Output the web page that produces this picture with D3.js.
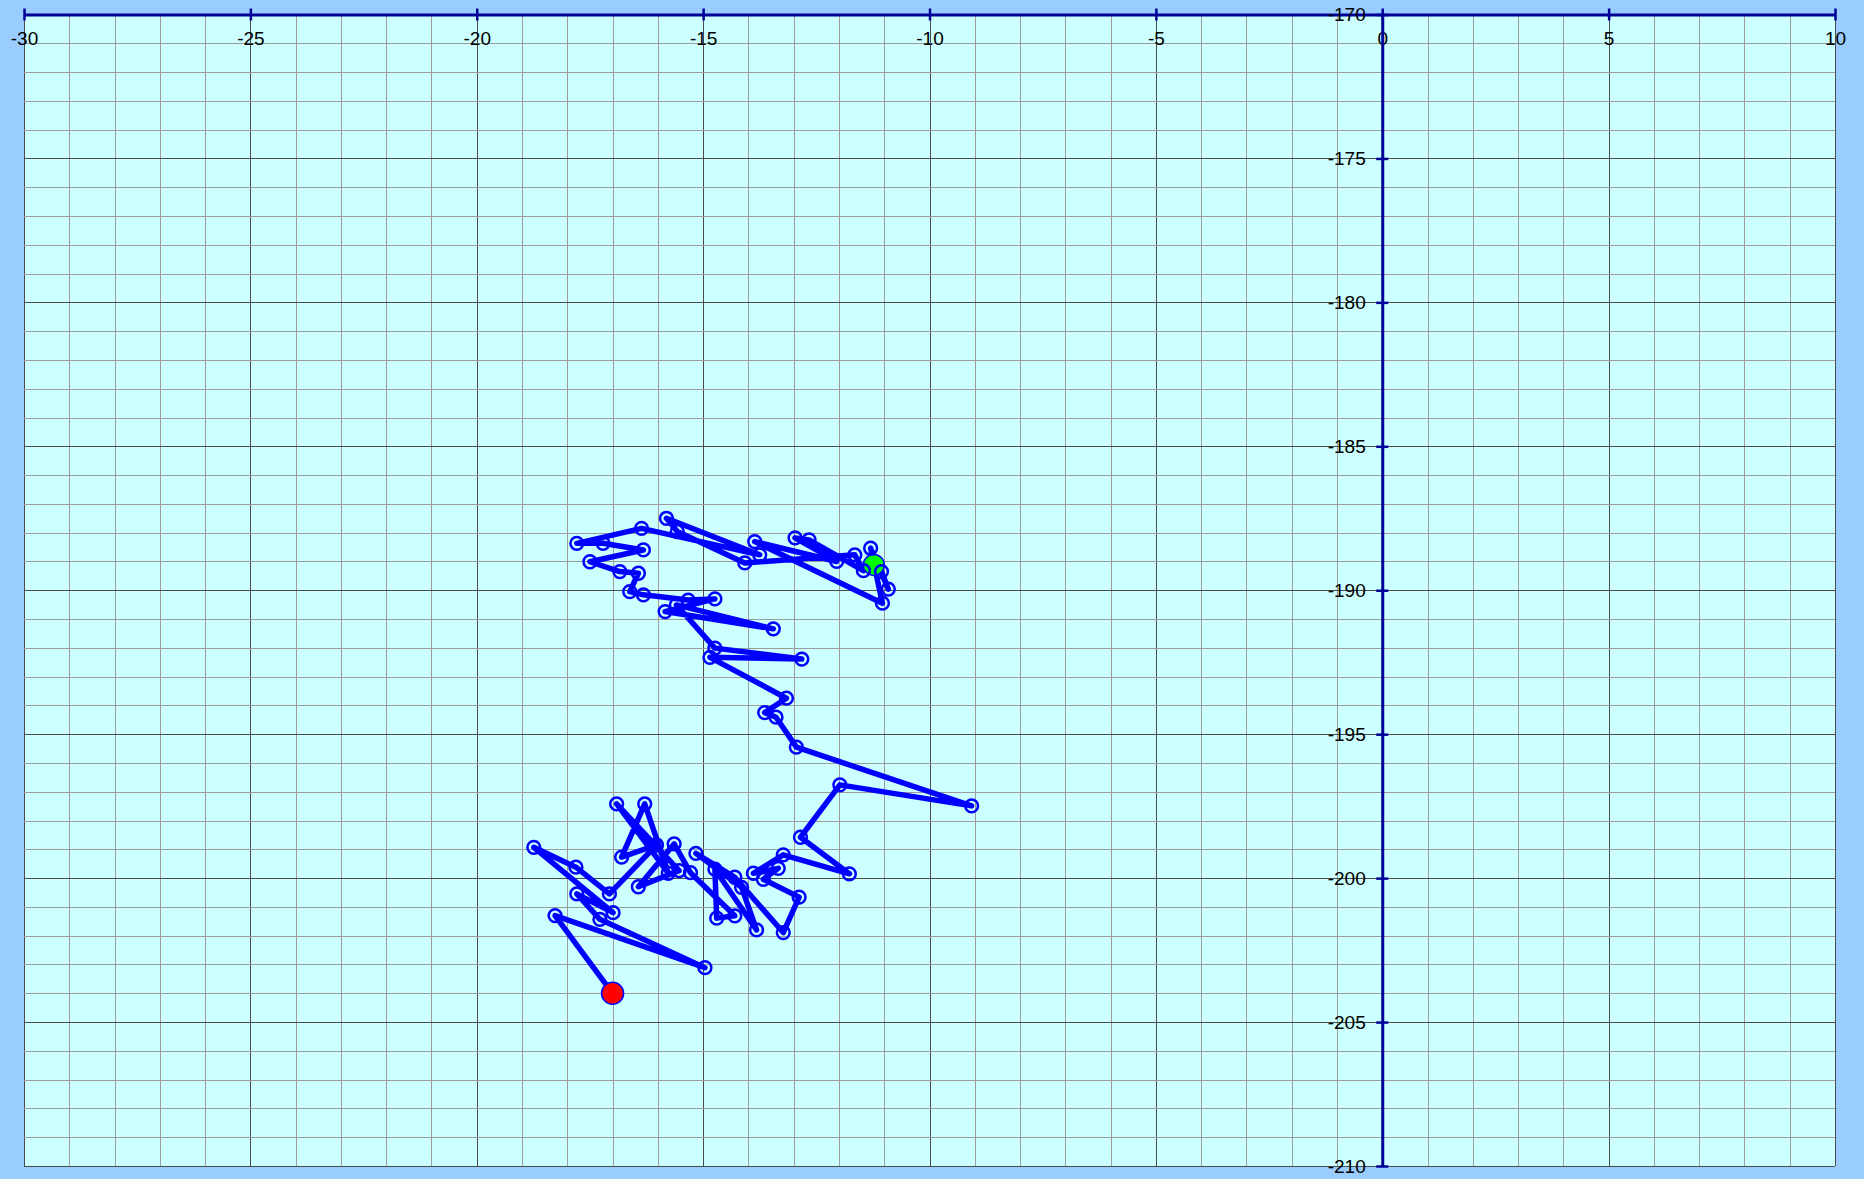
<!DOCTYPE html>
<html>
<head>
<meta charset="utf-8">
<script src="https://cdn.jsdelivr.net/npm/d3@7"></script>
<style>
body { margin: 0; background: #99ccff; overflow: hidden; }
#graph text { font-family: "Liberation Sans", Arial, sans-serif; font-size: 19px; fill: #000; }
</style>
</head>
<body>
<div id="graph"></div>
<script>
// walk positions, in order (first = green start, last = red end)
const walkX = [
    -11.23, -11.06, -10.91, -11.30, -11.04, -13.86, -12.05, -12.97, -12.66, -11.46,
    -11.65, -14.08, -15.57, -15.81, -13.75, -16.36, -17.79, -17.21, -16.32, -17.50,
    -16.84, -16.43, -16.62, -16.32, -15.33, -14.74, -15.84, -13.45, -15.59, -14.74,
    -12.82, -14.85, -13.16, -13.64, -13.39, -12.94, -9.07, -11.98, -12.85, -11.77,
    -13.23, -13.89, -13.34, -13.67, -12.88, -13.23, -14.30, -15.16, -14.15, -13.82,
    -14.74, -14.70, -14.30, -15.28, -15.64, -16.43, -15.53, -16.91, -15.77, -16.29,
    -16.80, -16.03, -17.07, -17.81, -18.74, -16.99, -17.79, -17.28, -14.96, -18.27,
    -17.00
];
const walkY = [
    -189.12, -189.35, -189.96, -188.54, -190.45, -188.31, -189.00, -188.18, -188.25, -189.32,
    -188.77, -189.05, -187.96, -187.50, -188.77, -187.85, -188.37, -188.37, -188.60, -189.01,
    -189.35, -189.41, -190.05, -190.16, -190.34, -190.30, -190.74, -191.34, -190.51, -192.01,
    -192.39, -192.33, -193.75, -194.25, -194.41, -195.45, -197.49, -196.76, -198.58, -199.85,
    -199.19, -199.83, -199.66, -200.04, -200.66, -201.89, -199.97, -199.14, -200.32, -201.80,
    -199.69, -201.39, -201.31, -199.81, -198.81, -200.30, -199.74, -197.42, -199.83, -197.42,
    -199.27, -198.85, -200.55, -199.62, -198.93, -201.20, -200.55, -201.43, -203.11, -201.30,
    -204.00
];
const xTicks = [-30, -25, -20, -15, -10, -5, 0, 5, 10];
const yTicks = [-170, -175, -180, -185, -190, -195, -200, -205, -210];

const graph = {width: 1864, height: 1179};

graph.x = d3.scaleLinear().domain([-30, 10]).range([24, 1835]);
graph.y = d3.scaleLinear().domain([-170, -210]).range([14.5, 1166]);

// snap a coordinate to the middle of a pixel so 1px lines stay sharp
const snap = v => Math.round(v) + 0.5;
// plain hyphen for negatives, like the original
const plain = d => String(d);

graph.svg = d3.select("#graph")
    .append("svg")
    .attr("width", graph.width)
    .attr("height", graph.height);

// plot background
graph.svg.append("rect")
    .attr("x", graph.x(-30))
    .attr("y", graph.y(-170))
    .attr("width", graph.x(10) - graph.x(-30))
    .attr("height", graph.y(-210) - graph.y(-170))
    .attr("fill", "#ccffff");

// grid: one line per unit, every 5th darker
const gridX = d3.range(-30, 11, 1);
const gridY = d3.range(-170, -211, -1);
const isMajor = v => Math.abs(v) % 5 === 0;
const byMajor = (a, b) => isMajor(a) - isMajor(b);

graph.grid = graph.svg.append("g");
graph.grid.selectAll(".vx")
    .data(gridX.slice().sort(byMajor))
    .enter().append("line")
    .attr("x1", d => snap(graph.x(d))).attr("x2", d => snap(graph.x(d)))
    .attr("y1", graph.y(-170)).attr("y2", graph.y(-210))
    .attr("stroke", d => isMajor(d) ? "#4a4a4a" : "#9c9c9c")
    .attr("stroke-width", 1);
graph.grid.selectAll(".hy")
    .data(gridY.slice().sort(byMajor))
    .enter().append("line")
    .attr("y1", d => snap(graph.y(d))).attr("y2", d => snap(graph.y(d)))
    .attr("x1", graph.x(-30)).attr("x2", graph.x(10))
    .attr("stroke", d => isMajor(d) ? "#4a4a4a" : "#9c9c9c")
    .attr("stroke-width", 1);

// axes
graph.xAxis = graph.svg.append("g")
    .attr("transform", `translate(0, ${graph.y(-170)})`)
    .call(d3.axisBottom(graph.x).tickValues(xTicks).tickFormat(plain)
        .tickSize(6).tickSizeOuter(0).tickPadding(11));
graph.yAxis = graph.svg.append("g")
    .attr("transform", `translate(${graph.x(0)}, 0)`)
    .call(d3.axisLeft(graph.y).tickValues(yTicks).tickFormat(plain)
        .tickSize(6).tickSizeOuter(0).tickPadding(10.5));

[graph.xAxis, graph.yAxis].forEach(ax => {
    ax.attr("font-size", null).attr("font-family", null);
    ax.select(".domain").attr("stroke", "#000099").attr("stroke-width", 3);
    ax.selectAll(".tick line").attr("stroke", "#000099").attr("stroke-width", 2.5);
});
// ticks cross the axis line
graph.xAxis.selectAll(".tick line").attr("y1", -6).attr("y2", 6);
graph.yAxis.selectAll(".tick line").attr("x1", -6).attr("x2", 6);

const pts = walkX.map((v, i) => [v, walkY[i]]);
const first = pts[0], last = pts[pts.length - 1];

graph.svg.append("path")
    .datum(pts)
    .attr("fill", "none")
    .attr("stroke", "#0000ff")
    .attr("stroke-width", 5.5)
    .attr("stroke-linejoin", "round")
    .attr("d", d3.line().x(d => graph.x(d[0])).y(d => graph.y(d[1])));

// start marker, under the small rings
graph.svg.append("circle")
    .attr("cx", graph.x(first[0])).attr("cy", graph.y(first[1]))
    .attr("r", 10.5)
    .attr("fill", "#00ff00")
    .attr("stroke", "#0000ff").attr("stroke-width", 1.5);

graph.svg.append("g")
    .selectAll("circle")
    .data(pts.slice(1, -1))
    .enter().append("circle")
    .attr("cx", d => graph.x(d[0])).attr("cy", d => graph.y(d[1]))
    .attr("r", 6.4)
    .attr("fill", "none")
    .attr("stroke", "#0000ff")
    .attr("stroke-width", 2.5);

graph.svg.append("circle")
    .attr("cx", graph.x(last[0])).attr("cy", graph.y(last[1]))
    .attr("r", 11)
    .attr("fill", "#ff0000")
    .attr("stroke", "#0000ff").attr("stroke-width", 1.5);
</script>
</body>
</html>
